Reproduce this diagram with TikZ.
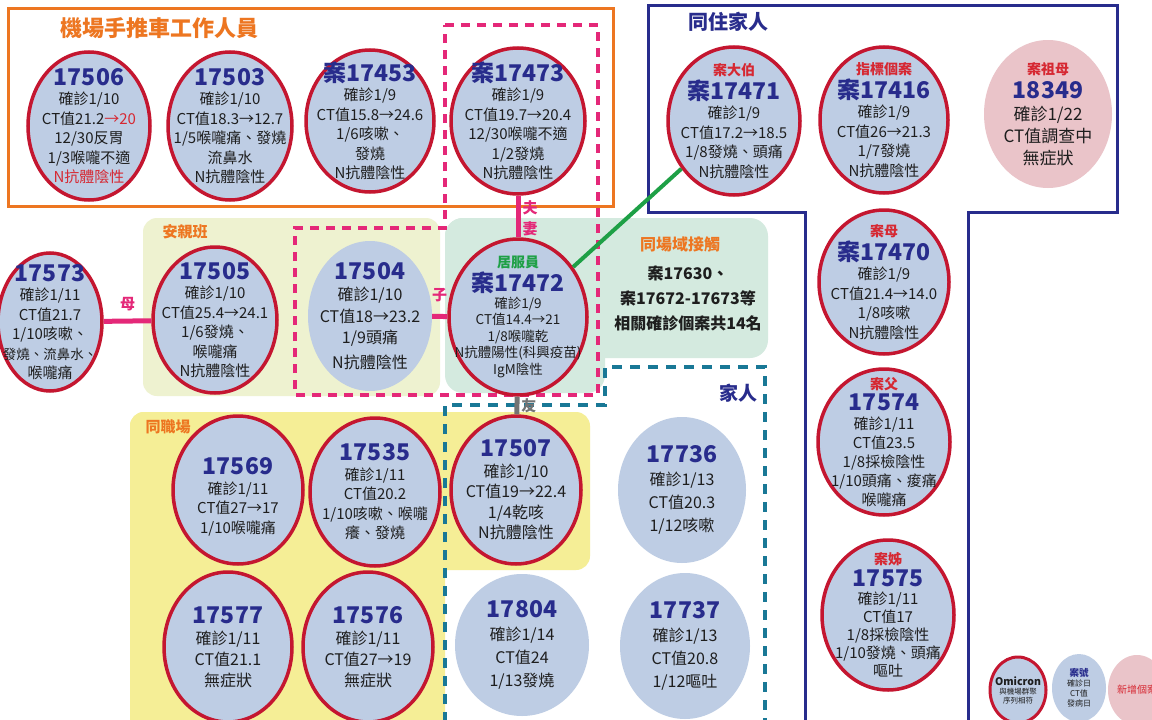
\documentclass[tikz,border=0pt]{standalone}
\usepackage{fontspec}
\setmainfont{Noto Sans CJK TC}
\usetikzlibrary{shapes.geometric}
\usetikzlibrary{positioning}

\definecolor{caseblue}{RGB}{190,205,228}
\definecolor{casered}{RGB}{196,22,48}
\definecolor{newpink}{RGB}{234,196,201}
\definecolor{navy}{RGB}{40,44,140}
\definecolor{orangeline}{RGB}{237,118,33}
\definecolor{tiepink}{RGB}{228,40,120}
\definecolor{famteal}{RGB}{25,120,150}
\definecolor{workyellow}{RGB}{245,238,150}
\definecolor{careyellow}{RGB}{238,242,208}
\definecolor{sitemint}{RGB}{212,234,223}
\definecolor{linkgreen}{RGB}{30,160,70}
\definecolor{ink}{RGB}{30,30,30}
\definecolor{relred}{RGB}{214,40,50}

\newcommand\caseno[1]{{\fontsize{23}{23}\selectfont\bfseries\color{navy}#1}}
\newcommand\relof[1]{{\fontsize{14}{14}\selectfont\bfseries\color{relred}#1}}

\tikzset{
    case/.style={ellipse, draw=casered, line width=3.5pt, fill=caseblue, inner sep=0pt},
    plain case/.style={ellipse, fill=caseblue, inner sep=0pt},
    new case/.style={ellipse, fill=newpink, inner sep=0pt},
    oval/.style 2 args={minimum width=#1pt, minimum height=#2pt},
    info/.style={align=center, text=ink, inner sep=0pt, font=\fontsize{15}{19.5}\selectfont},
    roomy/.style={info, font=\fontsize{16}{23}\selectfont},
    tight/.style={info, font=\fontsize{13.5}{16.5}\selectfont},
    grouptitle/.style={font=\fontsize{15}{15}\selectfont\bfseries, text=orangeline, inner sep=0pt},
    tie/.style={draw=tiepink, line width=5pt},
    tielabel/.style={font=\fontsize{15}{15}\selectfont\bfseries, text=tiepink, inner sep=2pt},
}

\begin{document}
\begin{tikzpicture}[x=1pt,y=-1pt]
    \useasboundingbox (0,0) rectangle (1152,720);
    \fill[white] (0,0) rectangle (1152,720);

    % group backgrounds
    \fill[careyellow, rounded corners=14pt] (143,218) rectangle (440,396);
    \fill[sitemint, rounded corners=18pt] (445,218) rectangle (768,358);
    \fill[sitemint, rounded corners=18pt] (445,218) rectangle (605,393);
    \fill[workyellow, rounded corners=14pt] (130,412) rectangle (590,570);
    \fill[workyellow, rounded corners=14pt] (130,412) rectangle (445,740);

    % group frames
    \draw[orangeline, line width=3pt] (8,8) rectangle (613,206);
    \draw[navy, line width=3pt] (648,5) -- (1117,5) -- (1117,212) -- (968,212)
        -- (968,740) -- (805,740) -- (805,212) -- (648,212) -- cycle;
    \draw[tiepink, line width=4pt, dash pattern=on 9pt off 7pt]
        (445,25) -- (598,25) -- (598,395) -- (295,395) -- (295,228) -- (445,228) -- cycle;
    \draw[famteal, line width=4pt, dash pattern=on 10pt off 8pt]
        (445,740) -- (445,405) -- (605,405) -- (605,367) -- (765,367) -- (765,740);

    % group titles
    \node[grouptitle, anchor=west, font=\fontsize{22}{22}\selectfont\bfseries] (cart) at (60,28) {機場手推車工作人員};
    \node[grouptitle, anchor=west, text=navy, font=\fontsize{20}{20}\selectfont\bfseries] (home) at (688,22) {同住家人};
    \node[grouptitle] (care) at (185,232) {安親班};
    \node[grouptitle] (work) at (168,427) {同職場};
    \node[grouptitle, text=navy, font=\fontsize{19}{19}\selectfont\bfseries] (family) at (738,393) {家人};
    \node[grouptitle, font=\fontsize{16}{16}\selectfont\bfseries] (site) at (680,244) {同場域接觸};
    \node[align=center, text=ink, font=\fontsize{16}{25}\selectfont\bfseries, below=10pt of site.south, anchor=north,
        xshift=8pt] (sitelist) {案17630、\\案17672-17673等\\相關確診個案共14名};

    % airport cart workers
    \node[case, oval={122}{148}, label={[info]center:{\caseno{17506}\\確診1/10\\CT值21.2{\color{relred}→20}\\12/30反胃\\1/3喉嚨不適\\{\color{relred}N抗體陰性}}}] (c17506) at (89,126) {};
    \node[case, oval={124}{148}, label={[info]center:{\caseno{17503}\\確診1/10\\CT值18.3→12.7\\1/5喉嚨痛、發燒\\流鼻水\\N抗體陰性}}] (c17503) at (230,126) {};
    \node[case, oval={128}{142}, label={[info]center:{\caseno{案17453}\\確診1/9\\CT值15.8→24.6\\1/6咳嗽、\\發燒\\N抗體陰性}}] (c17453) at (370,121) {};
    \node[case, oval={134}{146}, label={[info]center:{\caseno{案17473}\\確診1/9\\CT值19.7→20.4\\12/30喉嚨不適\\1/2發燒\\N抗體陰性}}] (c17473) at (518,121) {};

    % household
    \node[case, oval={132}{148}, label={[info]center:{\relof{案大伯}\\[2pt]\caseno{案17471}\\確診1/9\\CT值17.2→18.5\\1/8發燒、頭痛\\N抗體陰性}}] (c17471) at (734,121) {};
    \node[case, oval={128}{146}, label={[info]center:{\relof{指標個案}\\[2pt]\caseno{案17416}\\確診1/9\\CT值26→21.3\\1/7發燒\\N抗體陰性}}] (c17416) at (884,120) {};
    \node[new case, oval={128}{148}, label={[roomy, font=\fontsize{17}{22}\selectfont]center:{\relof{案祖母}\\[2pt]\caseno{18349}\\確診1/22\\CT值調查中\\無症狀}}] (c18349) at (1048,114) {};
    \node[case, oval={130}{144}, label={[info]center:{\relof{案母}\\[2pt]\caseno{案17470}\\確診1/9\\CT值21.4→14.0\\1/8咳嗽\\N抗體陰性}}] (c17470) at (884,282) {};
    \node[case, oval={132}{146}, label={[info, font=\fontsize{15}{19}\selectfont]center:{\relof{案父}\\[2pt]\caseno{17574}\\確診1/11\\CT值23.5\\1/8採檢陰性\\1/10頭痛、痠痛\\喉嚨痛}}] (c17574) at (884,442) {};
    \node[case, oval={132}{150}, label={[info, font=\fontsize{15}{18}\selectfont]center:{\relof{案姊}\\[3pt]\caseno{17575}\\確診1/11\\CT值17\\1/8採檢陰性\\1/10發燒、頭痛\\嘔吐}}] (c17575) at (888,615) {};

    % after-school class and care worker
    \node[case, oval={104}{138}, label={[info]center:{\caseno{17573}\\確診1/11\\CT值21.7\\1/10咳嗽、\\{\fontsize{13.5}{13.5}\selectfont 發燒、流鼻水、}\\喉嚨痛}}] (c17573) at (50,322) {};
    \node[case, oval={124}{146}, label={[info]center:{\caseno{17505}\\確診1/10\\CT值25.4→24.1\\1/6發燒、\\喉嚨痛\\N抗體陰性}}] (c17505) at (215,320) {};
    \node[plain case, oval={124}{150}, label={[roomy, font=\fontsize{16}{21.5}\selectfont]center:{\caseno{17504}\\確診1/10\\CT值18→23.2\\1/9頭痛\\[3pt]N抗體陰性}}] (c17504) at (370,316) {};
    \node[case, oval={138}{156}, label={[tight]center:{{\fontsize{14}{14}\selectfont\bfseries\color{linkgreen}居服員}\\[2pt]\caseno{案17472}\\確診1/9\\CT值14.4→21\\1/8喉嚨乾\\N抗體陽性(科興疫苗)\\IgM陰性}}] (c17472) at (518,317) {};

    % same workplace
    \node[case, oval={130}{148}, label={[info, yshift=-7pt]center:{\caseno{17569}\\確診1/11\\CT值27→17\\1/10喉嚨痛}}] (c17569) at (238,490) {};
    \node[case, oval={130}{148}, label={[info]center:{\caseno{17535}\\確診1/11\\CT值20.2\\1/10咳嗽、喉嚨\\癢、發燒}}] (c17535) at (375,492) {};
    \node[case, oval={130}{148}, label={[roomy, font=\fontsize{16}{20.5}\selectfont]center:{\caseno{17507}\\確診1/10\\CT值19→22.4\\1/4乾咳\\N抗體陰性}}] (c17507) at (516,490) {};
    \node[case, oval={128}{150}, label={[info, font=\fontsize{16}{21}\selectfont]center:{\caseno{17577}\\確診1/11\\CT值21.1\\無症狀}}] (c17577) at (228,647) {};
    \node[case, oval={130}{150}, label={[info, font=\fontsize{16}{21}\selectfont]center:{\caseno{17576}\\確診1/11\\CT值27→19\\無症狀}}] (c17576) at (368,647) {};

    % family members
    \node[plain case, oval={134}{142}, label={[roomy]center:{\caseno{17804}\\確診1/14\\CT值24\\1/13發燒}}] (c17804) at (522,645) {};
    \node[plain case, oval={128}{146}, label={[roomy]center:{\caseno{17736}\\確診1/13\\CT值20.3\\1/12咳嗽}}] (c17736) at (682,490) {};
    \node[plain case, oval={130}{146}, label={[roomy]center:{\caseno{17737}\\確診1/13\\CT值20.8\\1/12嘔吐}}] (c17737) at (685,646) {};

    % links
    \draw[tie] (c17573) -- node[tielabel, above=6pt] (mother) {母} (c17505);
    \draw[tie] (c17504) -- node[tielabel, above=10pt] (child) {子} (c17472);
    \draw[tie] (c17473) -- node[tielabel, right, pos=0.3] (husband) {夫}
        node[tielabel, right, pos=0.8] (wife) {妻} (c17472);
    \draw[gray!90!black, line width=5pt] (c17472) -- node[tielabel, right, text=gray!90!black] (friend) {友} (c17507);
    \draw[linkgreen, line width=4pt] (c17472) -- (c17471);

    % legend
    \node[case, line width=3pt, oval={56}{66}, label={[align=center, text=ink, font=\fontsize{7.5}{9}\selectfont]center:{{\fontsize{10.5}{10.5}\selectfont\bfseries Omicron}\\與機場群聚\\序列相符}}] (keyomicron) at (1018,690) {};
    \node[plain case, oval={54}{68}, label={[align=center, text=ink, font=\fontsize{8}{10}\selectfont]center:{{\fontsize{9.5}{9.5}\selectfont\bfseries\color{navy}案號}\\確診日\\CT值\\發病日}}] (keycase) at (1079,688) {};
    \node[new case, oval={58}{70}, label={[text=relred, font=\fontsize{10}{10}\selectfont]center:{新增個案}}] (keynew) at (1137,690) {};
\end{tikzpicture}
\end{document}
